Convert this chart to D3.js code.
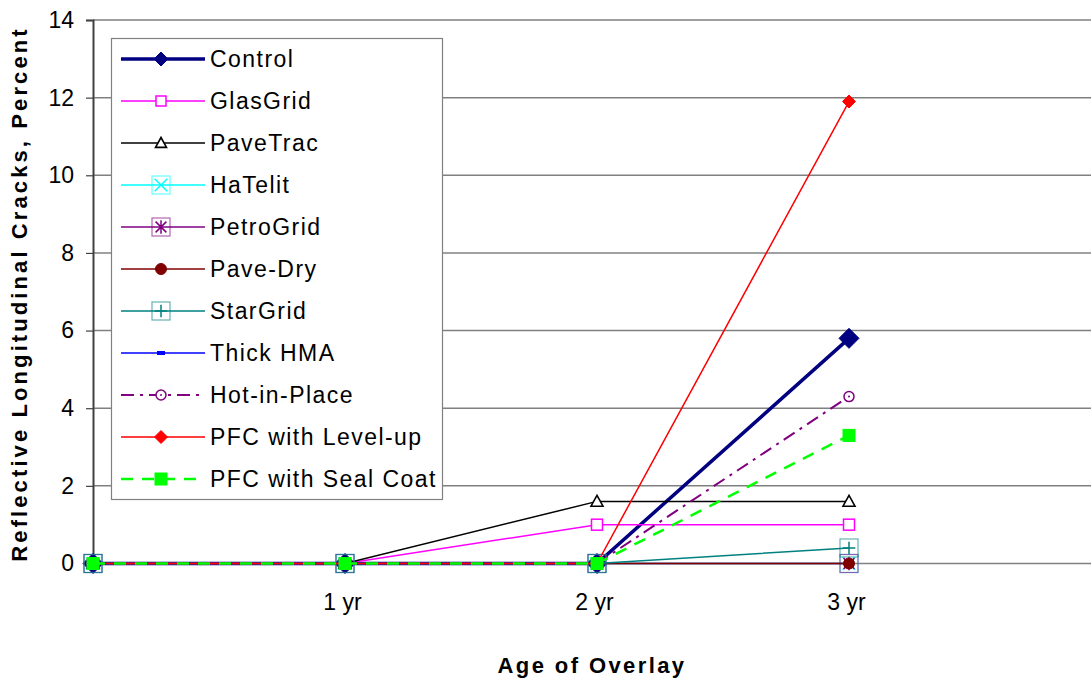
<!DOCTYPE html>
<html>
<head>
<meta charset="utf-8">
<script src="https://cdn.jsdelivr.net/npm/d3@7"></script>
<style>
  html, body { margin: 0; padding: 0; background: #fff; }
  svg { display: block; font-family: "Liberation Sans", Arial, sans-serif; }
</style>
</head>
<body>
<svg id="chart" width="1091" height="681"></svg>
<script>
// Age categories (index 0 is the start, unlabelled)
const categories = ["", "1 yr", "2 yr", "3 yr"];
const yTicks = [0, 2, 4, 6, 8, 10, 12, 14];

const seriesNames = ["Control", "GlasGrid", "PaveTrac", "HaTelit", "PetroGrid", "Pave-Dry",
  "StarGrid", "Thick HMA", "Hot-in-Place", "PFC with Level-up", "PFC with Seal Coat"];

const control      = [0, 0, 0, 5.8];
const glasGrid     = [0, 0, 1.0, 1.0];
const paveTrac     = [0, 0, 1.6, 1.6];
const haTelit      = [0, 0, 0, 0];
const petroGrid    = [0, 0, 0, 0];
const paveDry      = [0, 0, 0, 0];
const starGrid     = [0, 0, 0, 0.4];
const thickHMA     = [0, 0, 0, null];
const hotInPlace   = [0, 0, 0, 4.3];
const pfcLevelUp   = [0, 0, 0, 11.9];
const pfcSealCoat  = [0, 0, 0, 3.3];

const seriesValues = [control, glasGrid, paveTrac, haTelit, petroGrid, paveDry,
  starGrid, thickHMA, hotInPlace, pfcLevelUp, pfcSealCoat];

// Line and marker styling per series
const styles = [
  { color: "#000080", width: 3.5, dash: null, marker: "diamondFill", size: 10, legendSize: 7 },
  { color: "#ff00ff", width: 1.5, dash: null, marker: "squareOpen", size: 5.5, legendSize: 5 },
  { color: "#000000", width: 1.5, dash: null, marker: "triangleOpen", size: 6, legendSize: 5.5 },
  { color: "#00ffff", width: 1.5, dash: null, marker: "squareX", size: 9, legendSize: 9 },
  { color: "#800080", width: 1.5, dash: null, marker: "squareStar", size: 9, legendSize: 9 },
  { color: "#800000", width: 1.5, dash: null, marker: "circleFill", size: 5.5, legendSize: 5.5 },
  { color: "#008080", width: 1.5, dash: null, marker: "squarePlus", size: 9, legendSize: 9 },
  { color: "#0000ff", width: 1.5, dash: null, marker: "dash", size: 4, legendSize: 4 },
  { color: "#800080", width: 2,   dash: "13,6,3,6", marker: "circleDot", size: 5, legendSize: 5 },
  { color: "#ff0000", width: 1.5, dash: null, marker: "diamondFill", size: 6.5, legendSize: 6.5 },
  { color: "#00ff00", width: 2.5, dash: "12,9", marker: "squareFill", size: 6, legendSize: 6 }
];

const FONT = "Liberation Sans, Arial, sans-serif";
const svg = d3.select("#chart");
const x = d3.scaleLinear().domain([0, 4]).range([93, 1101]);
const y = d3.scaleLinear().domain([0, 14]).range([563.5, 20]);

// Gridlines
svg.append("g")
  .selectAll("line")
  .data(yTicks)
  .join("line")
  .attr("x1", x(0)).attr("x2", 1091)
  .attr("y1", d => y(d)).attr("y2", d => y(d))
  .attr("stroke", "#808080").attr("stroke-width", 1.5);

// Y axis
const yAxis = d3.axisLeft(y).tickValues(yTicks).tickSize(7).tickPadding(12);
const gy = svg.append("g").attr("transform", `translate(${x(0)},0)`).call(yAxis);
gy.select(".domain").attr("stroke", "#404040").attr("stroke-width", 2);
gy.selectAll(".tick line").attr("stroke", "#404040").attr("stroke-width", 1.2);
gy.selectAll(".tick text")
  .attr("font-family", FONT)
  .attr("font-size", 23).attr("fill", "#000");

// X axis labels
const xAxis = d3.axisBottom(x).tickValues([1, 2, 3]).tickFormat(i => categories[i]).tickSize(0).tickPadding(30);
const gx = svg.append("g").attr("transform", `translate(0,${y(0)})`).call(xAxis);
gx.select(".domain").remove();
gx.selectAll(".tick text")
  .attr("font-family", FONT)
  .attr("font-size", 23).attr("fill", "#000").attr("dx", -3);

// Axis titles
svg.append("text")
  .attr("x", 592).attr("y", 673)
  .attr("text-anchor", "middle")
  .attr("font-size", 22).attr("font-weight", "bold")
  .attr("letter-spacing", 2.4)
  .text("Age of Overlay");
svg.append("text")
  .attr("transform", "translate(27,294) rotate(-90)")
  .attr("text-anchor", "middle")
  .attr("font-size", 22).attr("font-weight", "bold")
  .attr("letter-spacing", 3.1)
  .text("Reflective Longitudinal Cracks, Percent");

// Marker drawing
function drawMarker(g, type, color, s) {
  switch (type) {
    case "diamondFill":
      g.append("path").attr("d", `M0,${-s}L${s},0L0,${s}L${-s},0Z`).attr("fill", color).attr("stroke", color);
      break;
    case "squareOpen":
      g.append("rect").attr("x", -s).attr("y", -s).attr("width", 2 * s).attr("height", 2 * s)
        .attr("fill", "#fff").attr("stroke", color).attr("stroke-width", 1.5);
      break;
    case "squareFill":
      g.append("rect").attr("x", -s).attr("y", -s).attr("width", 2 * s).attr("height", 2 * s)
        .attr("fill", color).attr("stroke", color);
      break;
    case "triangleOpen":
      g.append("path").attr("d", `M0,${-s}L${s},${s * 0.8}L${-s},${s * 0.8}Z`)
        .attr("fill", "#fff").attr("stroke", color).attr("stroke-width", 1.6);
      break;
    case "squareX":
      g.append("rect").attr("x", -s).attr("y", -s).attr("width", 2 * s).attr("height", 2 * s)
        .attr("fill", "none").attr("stroke", color).attr("stroke-opacity", 0.6).attr("stroke-width", 1.2);
      g.append("path").attr("d", `M${-s * 0.7},${-s * 0.7}L${s * 0.7},${s * 0.7}M${s * 0.7},${-s * 0.7}L${-s * 0.7},${s * 0.7}`)
        .attr("stroke", color).attr("stroke-width", 1.5);
      break;
    case "squareStar":
      g.append("rect").attr("x", -s).attr("y", -s).attr("width", 2 * s).attr("height", 2 * s)
        .attr("fill", "none").attr("stroke", color).attr("stroke-opacity", 0.6).attr("stroke-width", 1.2);
      g.append("path").attr("d", `M${-s * 0.6},${-s * 0.6}L${s * 0.6},${s * 0.6}M${s * 0.6},${-s * 0.6}L${-s * 0.6},${s * 0.6}M0,${-s * 0.75}L0,${s * 0.75}`)
        .attr("stroke", color).attr("stroke-width", 1.5);
      break;
    case "squarePlus":
      g.append("rect").attr("x", -s).attr("y", -s).attr("width", 2 * s).attr("height", 2 * s)
        .attr("fill", "none").attr("stroke", color).attr("stroke-opacity", 0.6).attr("stroke-width", 1.2);
      g.append("path").attr("d", `M${-s * 0.7},0L${s * 0.7},0M0,${-s * 0.7}L0,${s * 0.7}`)
        .attr("stroke", color).attr("stroke-width", 1.5);
      break;
    case "circleFill":
      g.append("circle").attr("r", s).attr("fill", color).attr("stroke", color);
      break;
    case "circleDot":
      g.append("circle").attr("r", s).attr("fill", "#fff").attr("stroke", color).attr("stroke-width", 1.5);
      g.append("circle").attr("r", 1).attr("fill", color);
      break;
    case "dash":
      g.append("rect").attr("x", -s).attr("y", -2).attr("width", 2 * s).attr("height", 4).attr("fill", color);
      break;
  }
}

// Series lines and markers (later series drawn on top)
const line = d3.line().defined(d => d !== null).x((d, i) => x(i)).y(d => y(d));
seriesValues.forEach((vals, k) => {
  const st = styles[k];
  const g = svg.append("g");
  g.append("path").attr("d", line(vals))
    .attr("fill", "none").attr("stroke", st.color).attr("stroke-width", st.width)
    .attr("stroke-dasharray", st.dash);
  vals.forEach((v, i) => {
    if (v === null) return;
    const m = g.append("g").attr("transform", `translate(${x(i)},${y(v)})`);
    drawMarker(m, st.marker, st.color, st.size);
  });
});

// Legend
const legend = svg.append("g");
legend.append("rect")
  .attr("x", 111.5).attr("y", 38.5).attr("width", 331).attr("height", 461)
  .attr("fill", "#fff").attr("stroke", "#808080").attr("stroke-width", 1.2);
seriesNames.forEach((name, k) => {
  const st = styles[k];
  const ly = 59 + k * 42;
  const g = legend.append("g").attr("transform", `translate(0,${ly})`);
  g.append("line").attr("x1", 121).attr("x2", 205).attr("y1", 0).attr("y2", 0)
    .attr("stroke", st.color).attr("stroke-width", st.width)
    .attr("stroke-dasharray", st.dash);
  const m = g.append("g").attr("transform", "translate(161,0)");
  drawMarker(m, st.marker, st.color, st.legendSize);
  g.append("text").attr("x", 210).attr("y", 8)
    .attr("font-family", FONT)
    .attr("font-size", 23).attr("letter-spacing", 1.45).attr("fill", "#000").text(name);
});
</script>
</body>
</html>
